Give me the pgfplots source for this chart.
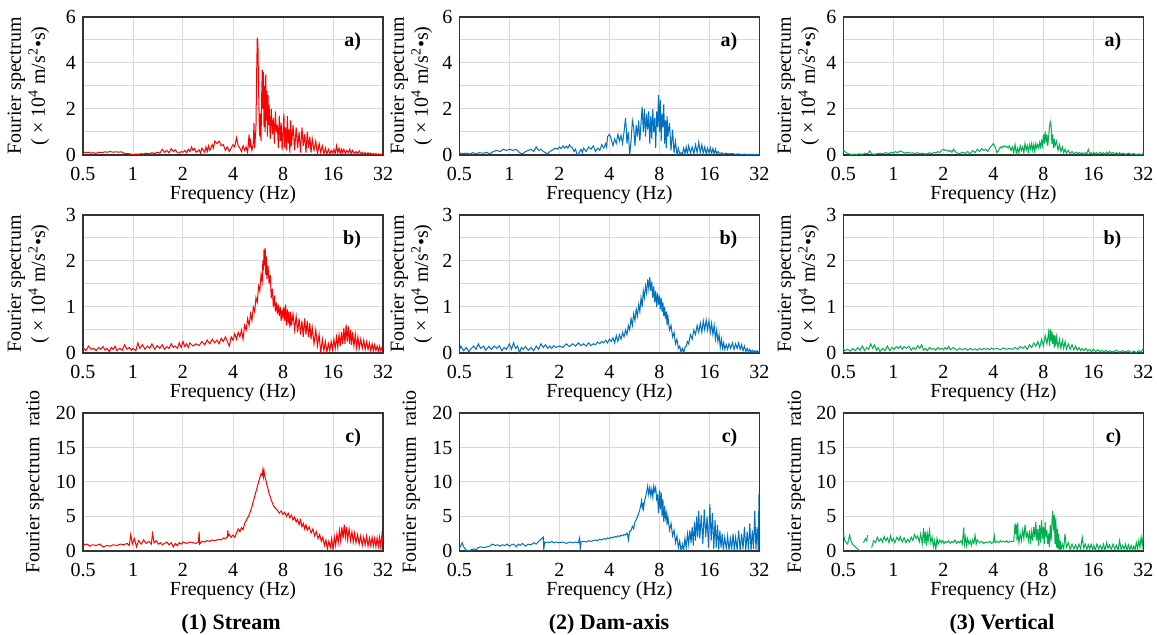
\documentclass[border=0pt]{standalone}
\usepackage{fontspec}
\setmainfont{Liberation Serif}
\usepackage{pgfplots}
\pgfplotsset{compat=1.18}

\definecolor{cred}{RGB}{255,0,0}
\definecolor{cblue}{RGB}{0,112,192}
\definecolor{cgreen}{RGB}{0,176,80}

\pgfplotsset{
  /pgf/number format/assume math mode=true,
  myaxis/.style={
    scale only axis, width=150pt, height=69pt, anchor=north west,
    xmin=0.5, xmax=32, ymin=0,
    xtick={0.5,1,2,4,8,16,32}, xticklabels={0.5,1,2,4,8,16,32},
    grid=major, major grid style={black!15, line width=0.5pt},
    minor grid style={black!15, line width=0.5pt},
    major tick length=0pt, minor tick length=0pt,
    axis line style={black!80, line width=0.8pt},
    tick label style={font=\fontsize{10}{12}\selectfont},
    xticklabel style={yshift=-2.5pt},
    label style={font=\fontsize{10}{12}\selectfont},
    xlabel={Frequency (Hz)},
    xlabel style={yshift=4.5pt},
    unbounded coords=jump,
  },
  myrowa/.style={ymax=6, ytick={0,2,4,6}, minor ytick={1,3,5}, yminorgrids=true},
  myrowb/.style={ymax=3, ytick={0,1,2,3}, minor ytick={0.5,1.5,2.5}, yminorgrids=true},
  myrowc/.style={ymax=20, ytick={0,5,10,15,20}},
  myspec/.style={ylabel={Fourier spectrum\\( × 10\textsuperscript{4} m/s\textsuperscript{2}•s)},
    ylabel style={at={(axis description cs:#1,0.5)}, anchor=center, align=center}},
  myratio/.style={ylabel={Fourier spectrum\ \ ratio},
    ylabel style={at={(axis description cs:#1,0.5)}, anchor=center}},
}
\newcommand\tagfont{\fontsize{10}{12}\selectfont\bfseries}

\begin{document}
\begin{tikzpicture}
\useasboundingbox (0,0) rectangle (578.5pt,-317.5pt);

% ---------------- (1) Stream ----------------
\begin{axis}[xmode=log, log basis x=2, myaxis, myrowa, myspec=-0.182, at={(41.5pt,-8.5pt)}]
\addplot[cred, line width=0.5pt] coordinates {
(0.5,0.15)(0.52,0.1)(0.54,0.12)(0.56,0.08)(0.58,0.1)(0.6,0.07)(0.62,0.12)(0.65,0.1)(0.68,0.14)(0.7,0.12)(0.73,0.15)(0.76,0.12)(0.79,0.14)(0.82,0.12)(0.85,0.14)(0.88,0.08)(0.92,0.06)(0.96,0.05)(1.0,0.02)(1.04,0.04)(1.08,0.03)(1.12,0.06)(1.16,0.04)(1.2,0.08)(1.25,0.05)(1.3,0.1)(1.35,0.06)(1.4,0.12)(1.45,0.08)(1.5,0.25)(1.55,0.12)(1.6,0.2)(1.65,0.1)(1.7,0.28)(1.75,0.15)(1.8,0.22)(1.85,0.1)(1.9,0.08)(1.95,0.15)(2.0,0.12)(2.05,0.2)(2.1,0.1)(2.15,0.25)(2.2,0.15)(2.25,0.35)(2.3,0.2)(2.35,0.28)(2.4,0.12)(2.5,0.22)(2.55,0.08)(2.6,0.3)(2.7,0.12)(2.75,0.35)(2.8,0.15)(2.85,0.4)(2.9,0.2)(3.0,0.45)(3.05,0.3)(3.1,0.6)(3.2,0.5)(3.3,0.6)(3.4,0.4)(3.5,0.45)(3.6,0.2)(3.7,0.35)(3.8,0.15)(3.9,0.3)(4.0,0.45)(4.1,0.35)(4.2,0.75)(4.3,0.4)(4.4,0.3)(4.5,0.15)(4.6,0.4)(4.7,0.2)(4.8,0.35)(4.9,0.1)(5.0,0.9)(5.05,0.3)(5.1,0.6)(5.2,0.2)(5.3,0.5)(5.35,1.4)(5.4,0.3)(5.5,1.2)(5.55,3.5)(5.6,5.1)(5.65,4.9)(5.7,3.0)(5.75,1.5)(5.8,0.8)(5.85,1.8)(5.9,0.6)(5.95,2.5)(6.0,3.7)(6.05,2.0)(6.1,3.6)(6.15,1.2)(6.2,3.0)(6.25,1.0)(6.3,3.5)(6.35,1.5)(6.4,2.8)(6.45,0.8)(6.5,2.6)(6.55,1.3)(6.6,2.2)(6.7,0.7)(6.8,2.0)(6.9,0.9)(7.0,1.6)(7.1,0.5)(7.2,1.9)(7.3,1.0)(7.4,1.3)(7.5,0.3)(7.6,1.7)(7.7,0.6)(7.8,1.4)(7.9,0.2)(8.0,1.0)(8.1,1.8)(8.2,0.3)(8.3,1.2)(8.4,0.2)(8.5,1.7)(8.6,0.5)(8.7,1.1)(8.8,0.1)(8.9,1.5)(9.0,0.4)(9.2,1.3)(9.4,0.2)(9.6,1.2)(9.8,0.3)(10.0,1.0)(10.2,0.1)(10.4,1.2)(10.6,0.4)(10.8,0.9)(11.0,0.1)(11.2,1.0)(11.4,0.3)(11.6,0.8)(11.8,0.1)(12.0,0.7)(12.3,0.2)(12.6,0.6)(12.9,0.05)(13.2,0.5)(13.5,0.1)(13.8,0.4)(14.1,0.05)(14.4,0.3)(14.7,0.05)(15.0,0.25)(15.3,0.05)(15.6,0.2)(15.9,0.1)(16.2,0.25)(16.5,0.05)(16.8,0.4)(17.1,0.1)(17.4,0.3)(17.7,0.05)(18.0,0.25)(18.3,0.1)(18.6,0.25)(19.0,0.05)(19.4,0.2)(19.8,0.1)(20.2,0.25)(20.6,0.05)(21.0,0.2)(21.5,0.05)(22.0,0.15)(22.5,0.05)(23.0,0.18)(23.5,0.05)(24.0,0.12)(24.5,0.03)(25.0,0.1)(25.5,0.02)(26.0,0.1)(26.5,0.03)(27.0,0.08)(27.5,0.02)(28.0,0.07)(28.5,0.02)(29,0.06)(29.5,0.01)(30,0.05)(30.5,0.02)(31,0.04)(31.5,0.01)(32,0.03)
};
\node[font=\tagfont, anchor=east] at (rel axis cs:0.95,0.82) {a)};
\end{axis}

\begin{axis}[xmode=log, log basis x=2, myaxis, myrowb, myspec=-0.182, at={(41.5pt,-107.5pt)}]
\addplot[cred, line width=0.5pt] coordinates {
(0.5,0.12)(0.52,0.05)(0.54,0.15)(0.56,0.08)(0.58,0.1)(0.6,0.05)(0.62,0.12)(0.64,0.08)(0.66,0.14)(0.68,0.06)(0.7,0.1)(0.72,0.03)(0.74,0.12)(0.76,0.08)(0.78,0.15)(0.8,0.05)(0.83,0.1)(0.86,0.06)(0.89,0.18)(0.92,0.08)(0.95,0.12)(0.98,0.06)(1.0,0.1)(1.04,0.05)(1.07,0.22)(1.1,0.1)(1.14,0.18)(1.18,0.08)(1.22,0.15)(1.26,0.1)(1.3,0.2)(1.35,0.08)(1.4,0.16)(1.45,0.1)(1.5,0.18)(1.55,0.08)(1.6,0.14)(1.65,0.1)(1.7,0.2)(1.75,0.12)(1.8,0.15)(1.85,0.1)(1.9,0.22)(1.95,0.12)(2.0,0.25)(2.05,0.14)(2.1,0.2)(2.15,0.12)(2.2,0.22)(2.3,0.15)(2.4,0.2)(2.5,0.16)(2.6,0.25)(2.7,0.18)(2.8,0.28)(2.9,0.2)(3.0,0.3)(3.1,0.22)(3.2,0.28)(3.3,0.2)(3.4,0.32)(3.5,0.25)(3.6,0.35)(3.7,0.25)(3.8,0.15)(3.9,0.35)(4.0,0.28)(4.1,0.42)(4.2,0.3)(4.3,0.45)(4.4,0.35)(4.5,0.5)(4.6,0.3)(4.7,0.6)(4.8,0.5)(4.9,0.75)(5.0,0.6)(5.1,0.85)(5.2,0.7)(5.3,1.0)(5.4,0.9)(5.5,1.2)(5.6,1.1)(5.7,1.45)(5.8,1.35)(5.9,1.7)(6.0,1.55)(6.05,2.0)(6.1,1.8)(6.15,2.25)(6.2,1.9)(6.25,2.28)(6.3,1.7)(6.35,2.1)(6.4,1.6)(6.5,1.9)(6.6,1.5)(6.7,1.7)(6.8,1.2)(6.9,1.4)(7.0,1.0)(7.1,1.25)(7.2,0.9)(7.3,1.1)(7.4,0.85)(7.5,1.05)(7.6,0.8)(7.7,1.0)(7.8,0.7)(7.9,0.95)(8.0,0.75)(8.1,1.0)(8.2,0.7)(8.3,1.05)(8.4,0.6)(8.5,0.95)(8.6,0.65)(8.7,0.9)(8.8,0.55)(8.9,0.9)(9.0,0.6)(9.2,0.85)(9.4,0.5)(9.6,0.8)(9.8,0.45)(10.0,0.75)(10.2,0.4)(10.4,0.7)(10.6,0.35)(10.8,0.75)(11.0,0.4)(11.2,0.7)(11.4,0.35)(11.6,0.65)(11.8,0.3)(12.0,0.55)(12.3,0.2)(12.6,0.5)(12.9,0.15)(13.2,0.4)(13.5,0.0)(13.8,0.3)(14.1,0.05)(14.4,0.25)(14.7,0.02)(15.0,0.2)(15.3,0.05)(15.6,0.25)(15.9,0.08)(16.2,0.3)(16.5,0.1)(16.8,0.35)(17.1,0.12)(17.4,0.4)(17.7,0.15)(18.0,0.45)(18.3,0.2)(18.6,0.55)(18.9,0.2)(19.2,0.62)(19.5,0.25)(19.8,0.58)(20.1,0.2)(20.4,0.5)(20.7,0.18)(21.0,0.45)(21.4,0.15)(21.8,0.4)(22.2,0.12)(22.6,0.35)(23.0,0.1)(23.5,0.3)(24.0,0.1)(24.5,0.28)(25.0,0.08)(25.5,0.25)(26.0,0.08)(26.5,0.22)(27.0,0.05)(27.5,0.2)(28.0,0.05)(28.5,0.18)(29.0,0.05)(29.5,0.15)(30.0,0.04)(30.5,0.15)(31.0,0.05)(31.5,0.12)(32,0.08)
};
\node[font=\tagfont, anchor=east] at (rel axis cs:0.95,0.82) {b)};
\end{axis}

\begin{axis}[xmode=log, log basis x=2, myaxis, myrowc, myratio=-0.16, at={(41.5pt,-206.5pt)}]
\addplot[cred, line width=0.5pt] coordinates {
(0.5,1.3)(0.51,0.9)(0.53,1.0)(0.55,0.7)(0.57,0.9)(0.6,0.8)(0.63,1.0)(0.66,0.6)(0.7,0.8)(0.73,0.7)(0.76,0.9)(0.8,0.8)(0.84,1.0)(0.88,0.9)(0.92,1.1)(0.95,0.8)(0.97,2.4)(0.99,1.0)(1.02,1.8)(1.05,0.6)(1.08,1.5)(1.12,1.0)(1.16,1.6)(1.2,1.1)(1.25,1.4)(1.29,1.0)(1.31,2.5)(1.34,1.2)(1.38,1.5)(1.42,1.0)(1.46,1.2)(1.5,0.9)(1.55,1.1)(1.6,1.3)(1.65,0.9)(1.7,1.2)(1.75,0.6)(1.8,1.1)(1.85,0.8)(1.9,1.2)(1.95,1.0)(2.0,1.3)(2.1,1.1)(2.2,1.3)(2.3,1.2)(2.4,1.1)(2.48,1.3)(2.5,2.8)(2.52,1.0)(2.6,1.4)(2.7,1.3)(2.8,1.5)(2.9,1.4)(3.0,1.6)(3.1,1.5)(3.2,1.6)(3.3,1.7)(3.4,1.6)(3.5,1.9)(3.6,1.8)(3.7,2.0)(3.72,3.0)(3.75,2.2)(3.8,2.4)(3.9,2.0)(4.0,2.3)(4.1,2.0)(4.2,2.6)(4.3,3.2)(4.4,2.8)(4.5,3.4)(4.6,3.1)(4.7,4.0)(4.8,4.4)(4.9,4.8)(5.0,5.2)(5.1,5.8)(5.2,6.4)(5.3,7.2)(5.4,7.9)(5.5,8.6)(5.6,9.3)(5.7,10.0)(5.8,10.6)(5.9,11.2)(6.0,11.0)(6.05,11.7)(6.1,10.8)(6.15,11.6)(6.2,10.9)(6.3,10.3)(6.4,9.6)(6.5,9.0)(6.6,8.3)(6.7,7.9)(6.8,7.4)(6.9,7.0)(7.0,6.6)(7.2,6.2)(7.4,5.9)(7.6,5.5)(7.8,5.8)(8.0,5.3)(8.2,5.6)(8.4,5.0)(8.6,5.5)(8.8,4.8)(9.0,5.2)(9.2,4.5)(9.4,4.9)(9.6,4.2)(9.8,4.6)(10.0,3.8)(10.2,4.5)(10.4,3.5)(10.6,4.0)(10.8,3.2)(11.0,3.8)(11.2,3.0)(11.5,3.5)(11.8,2.6)(12.1,3.2)(12.4,2.2)(12.7,2.8)(13.0,1.8)(13.3,2.4)(13.6,1.4)(13.9,2.0)(14.2,0.8)(14.5,1.6)(14.8,0.3)(15.1,1.4)(15.4,0.5)(15.7,1.8)(16.0,0.2)(16.3,2.0)(16.6,0.8)(16.9,2.5)(17.2,1.2)(17.5,3.0)(17.8,1.5)(18.1,3.5)(18.4,1.8)(18.7,3.8)(19.0,2.0)(19.3,3.5)(19.6,1.6)(20.0,3.2)(20.4,1.5)(20.8,2.8)(21.2,1.3)(21.6,2.6)(22.0,1.2)(22.5,2.4)(23.0,1.0)(23.5,2.2)(24.0,0.8)(24.5,2.0)(25.0,0.9)(25.5,2.2)(26.0,0.7)(26.5,1.9)(27.0,0.8)(27.5,2.0)(28.0,0.7)(28.5,1.8)(29.0,0.6)(29.5,1.9)(30.0,0.7)(30.5,2.0)(31.0,0.6)(31.5,2.3)(32,1.2)
};
\node[font=\tagfont, anchor=east] at (rel axis cs:0.95,0.82) {c)};
\end{axis}

% ---------------- (2) Dam-axis ----------------
\begin{axis}[xmode=log, log basis x=2, myaxis, myrowa, myspec=-0.16, at={(229.7pt,-8.5pt)}]
\addplot[cblue, line width=0.5pt] coordinates {
(0.5,0.1)(0.52,0.05)(0.55,0.08)(0.58,0.04)(0.6,0.1)(0.63,0.06)(0.66,0.1)(0.7,0.08)(0.73,0.12)(0.76,0.05)(0.8,0.15)(0.84,0.2)(0.88,0.15)(0.92,0.25)(0.96,0.2)(1.0,0.25)(1.05,0.2)(1.1,0.25)(1.15,0.1)(1.2,0.05)(1.25,0.15)(1.3,0.2)(1.35,0.25)(1.4,0.15)(1.45,0.35)(1.5,0.2)(1.55,0.25)(1.6,0.15)(1.65,0.1)(1.7,0.05)(1.75,0.15)(1.8,0.2)(1.85,0.25)(1.9,0.3)(1.95,0.25)(2.0,0.35)(2.05,0.28)(2.1,0.4)(2.15,0.3)(2.2,0.38)(2.25,0.3)(2.3,0.45)(2.35,0.35)(2.4,0.3)(2.45,0.15)(2.5,0.25)(2.55,0.05)(2.6,0.02)(2.65,0.15)(2.7,0.25)(2.75,0.1)(2.8,0.3)(2.9,0.15)(3.0,0.35)(3.1,0.25)(3.2,0.4)(3.3,0.15)(3.4,0.3)(3.5,0.2)(3.6,0.45)(3.7,0.3)(3.8,0.5)(3.85,0.35)(3.9,0.8)(4.0,0.9)(4.1,0.7)(4.2,0.4)(4.3,0.7)(4.4,0.5)(4.5,0.9)(4.6,0.6)(4.7,0.85)(4.8,0.5)(4.9,1.0)(5.0,1.6)(5.05,1.2)(5.1,0.5)(5.2,1.0)(5.3,0.0)(5.4,0.6)(5.5,1.5)(5.6,1.2)(5.7,0.4)(5.8,1.3)(5.9,0.8)(6.0,1.5)(6.1,0.6)(6.2,1.4)(6.3,2.1)(6.4,1.0)(6.5,2.0)(6.6,0.8)(6.7,1.8)(6.8,1.1)(6.9,1.9)(7.0,0.5)(7.1,1.7)(7.2,0.7)(7.3,2.0)(7.4,1.0)(7.5,1.6)(7.6,0.3)(7.7,1.9)(7.8,1.2)(7.9,2.6)(8.0,1.0)(8.1,2.4)(8.2,0.6)(8.3,1.8)(8.4,1.2)(8.5,2.2)(8.6,0.5)(8.7,1.5)(8.8,0.3)(8.9,1.7)(9.0,0.8)(9.2,1.4)(9.4,0.2)(9.6,1.1)(9.8,0.1)(10.0,0.6)(10.2,0.0)(10.4,0.3)(10.6,0.05)(10.8,0.1)(11.0,0.05)(11.2,0.3)(11.4,0.05)(11.6,0.35)(11.8,0.05)(12.0,0.4)(12.3,0.08)(12.6,0.35)(12.9,0.05)(13.2,0.45)(13.5,0.1)(13.8,0.55)(14.1,0.1)(14.4,0.45)(14.7,0.08)(15.0,0.35)(15.3,0.05)(15.6,0.3)(15.9,0.08)(16.2,0.32)(16.5,0.05)(16.8,0.28)(17.1,0.05)(17.4,0.25)(17.7,0.05)(18.0,0.15)(18.5,0.05)(19.0,0.1)(19.5,0.03)(20.0,0.08)(21,0.05)(22,0.06)(23,0.03)(24,0.05)(25,0.02)(26,0.04)(27,0.02)(28,0.03)(29,0.02)(30,0.03)(31,0.02)(32,0.02)
};
\node[font=\tagfont, anchor=east] at (rel axis cs:0.95,0.82) {a)};
\end{axis}

\begin{axis}[xmode=log, log basis x=2, myaxis, myrowb, myspec=-0.16, at={(229.7pt,-107.5pt)}]
\addplot[cblue, line width=0.5pt] coordinates {
(0.5,0.05)(0.51,0.15)(0.53,0.05)(0.55,0.12)(0.57,0.03)(0.59,0.1)(0.61,0.15)(0.63,0.08)(0.65,0.2)(0.67,0.1)(0.7,0.15)(0.72,0.06)(0.75,0.14)(0.78,0.08)(0.81,0.15)(0.84,0.1)(0.87,0.16)(0.9,0.05)(0.93,0.12)(0.96,0.08)(1.0,0.2)(1.03,0.08)(1.06,0.22)(1.09,0.1)(1.12,0.15)(1.15,0.0)(1.18,0.12)(1.21,0.08)(1.25,0.14)(1.3,0.06)(1.35,0.12)(1.4,0.05)(1.45,0.15)(1.5,0.08)(1.55,0.2)(1.6,0.12)(1.65,0.18)(1.7,0.1)(1.75,0.15)(1.8,0.1)(1.85,0.16)(1.9,0.12)(2.0,0.15)(2.1,0.12)(2.2,0.2)(2.3,0.14)(2.4,0.2)(2.5,0.15)(2.6,0.22)(2.7,0.16)(2.8,0.2)(2.9,0.15)(3.0,0.22)(3.1,0.16)(3.2,0.2)(3.3,0.18)(3.4,0.24)(3.5,0.2)(3.6,0.25)(3.7,0.22)(3.8,0.28)(3.9,0.22)(4.0,0.3)(4.1,0.25)(4.2,0.33)(4.3,0.22)(4.4,0.38)(4.5,0.25)(4.6,0.4)(4.7,0.3)(4.8,0.45)(4.9,0.35)(5.0,0.5)(5.1,0.4)(5.2,0.6)(5.3,0.5)(5.4,0.75)(5.5,0.6)(5.6,0.85)(5.7,0.7)(5.8,0.95)(5.9,0.8)(6.0,1.05)(6.1,0.9)(6.2,1.2)(6.3,1.0)(6.4,1.35)(6.5,1.2)(6.6,1.45)(6.7,1.3)(6.8,1.6)(6.9,1.4)(7.0,1.65)(7.1,1.35)(7.2,1.55)(7.3,1.2)(7.4,1.45)(7.5,1.1)(7.6,1.35)(7.7,1.0)(7.8,1.3)(7.9,1.05)(8.0,1.25)(8.1,0.95)(8.2,1.2)(8.3,0.9)(8.4,1.1)(8.5,0.8)(8.6,1.0)(8.7,0.75)(8.8,0.9)(8.9,0.6)(9.0,0.8)(9.2,0.5)(9.4,0.6)(9.6,0.35)(9.8,0.45)(10.0,0.2)(10.2,0.3)(10.4,0.1)(10.6,0.15)(10.8,0.02)(11.0,0.1)(11.2,0.0)(11.4,0.12)(11.6,0.15)(11.8,0.25)(12.0,0.2)(12.3,0.4)(12.6,0.3)(12.9,0.5)(13.2,0.4)(13.5,0.6)(13.8,0.45)(14.1,0.65)(14.4,0.45)(14.7,0.7)(15.0,0.5)(15.3,0.72)(15.6,0.5)(15.9,0.7)(16.2,0.45)(16.5,0.65)(16.8,0.4)(17.1,0.6)(17.4,0.3)(17.7,0.5)(18.0,0.25)(18.3,0.4)(18.6,0.12)(18.9,0.3)(19.2,0.1)(19.5,0.22)(19.8,0.08)(20.2,0.18)(20.6,0.08)(21.0,0.2)(21.5,0.1)(22.0,0.22)(22.5,0.08)(23.0,0.2)(23.5,0.1)(24.0,0.22)(24.5,0.08)(25.0,0.18)(25.5,0.05)(26.0,0.15)(26.5,0.03)(27.0,0.1)(27.5,0.02)(28.0,0.08)(28.5,0.02)(29.0,0.06)(29.5,0.01)(30.0,0.05)(30.5,0.01)(31.0,0.05)(31.5,0.0)(32,0.04)
};
\node[font=\tagfont, anchor=east] at (rel axis cs:0.95,0.82) {b)};
\end{axis}

\begin{axis}[xmode=log, log basis x=2, myaxis, myrowc, myratio=-0.16, at={(229.7pt,-206.5pt)}]
\addplot[cblue, line width=0.5pt] coordinates {
(0.5,0.3)(0.51,0.8)(0.52,1.2)(0.53,0.6)(0.55,0.1)(0.57,0.0)(0.59,0.2)(0.61,0.3)(0.63,0.2)(0.65,0.5)(0.67,0.6)(0.7,0.5)(0.73,0.6)(0.76,0.7)(0.79,1.0)(0.82,0.8)(0.85,0.9)(0.88,0.7)(0.91,0.9)(0.94,0.8)(0.97,1.0)(1.0,0.7)(1.03,0.9)(1.06,1.0)(1.1,0.6)(1.13,1.0)(1.16,0.8)(1.2,1.1)(1.25,0.7)(1.3,1.0)(1.35,0.9)(1.4,1.2)(1.45,1.0)(1.5,1.4)(1.55,1.7)(1.6,2.0)(1.61,0.2)(1.63,1.3)(1.66,1.2)(1.7,1.3)(1.75,1.2)(1.8,1.4)(1.85,1.2)(1.9,1.3)(2.0,1.2)(2.1,1.3)(2.2,1.1)(2.3,1.3)(2.4,1.2)(2.5,1.3)(2.6,1.2)(2.65,1.9)(2.67,0.2)(2.7,1.3)(2.8,1.4)(2.9,1.3)(3.0,1.5)(3.1,1.4)(3.2,1.5)(3.3,1.6)(3.4,1.5)(3.5,1.7)(3.6,1.6)(3.7,1.8)(3.8,1.7)(3.9,1.9)(4.0,1.8)(4.1,2.0)(4.2,1.9)(4.3,2.1)(4.4,2.0)(4.5,2.2)(4.6,2.1)(4.7,2.3)(4.8,2.2)(4.9,2.4)(5.0,2.3)(5.1,2.6)(5.15,2.4)(5.2,1.6)(5.25,2.2)(5.3,2.8)(5.4,3.0)(5.5,3.6)(5.6,3.2)(5.7,4.2)(5.8,4.5)(5.9,5.0)(6.0,5.4)(6.1,6.0)(6.2,6.8)(6.25,7.3)(6.3,6.2)(6.35,7.0)(6.4,5.8)(6.5,7.2)(6.6,7.8)(6.7,8.5)(6.8,9.4)(6.9,8.2)(7.0,9.2)(7.1,8.0)(7.2,9.0)(7.3,7.8)(7.4,9.4)(7.5,8.6)(7.6,9.2)(7.7,7.5)(7.8,8.0)(7.9,5.5)(8.0,8.8)(8.1,6.0)(8.2,8.5)(8.3,5.0)(8.4,7.5)(8.5,4.2)(8.6,6.5)(8.7,4.8)(8.8,5.5)(8.9,3.8)(9.0,5.0)(9.2,3.0)(9.4,4.0)(9.6,2.2)(9.8,3.0)(10.0,1.2)(10.2,2.2)(10.4,0.5)(10.6,1.5)(10.8,0.0)(11.0,1.0)(11.2,0.1)(11.4,1.8)(11.6,0.5)(11.8,2.5)(12.0,1.0)(12.2,3.0)(12.4,1.2)(12.6,3.5)(12.8,0.8)(13.0,4.2)(13.2,1.5)(13.4,5.0)(13.6,2.0)(13.8,5.8)(14.0,1.8)(14.3,5.2)(14.6,1.0)(14.9,6.0)(15.2,2.0)(15.5,5.0)(15.8,0.5)(16.1,6.8)(16.4,1.5)(16.7,5.5)(17.0,0.3)(17.3,4.5)(17.6,0.5)(17.9,3.8)(18.2,0.2)(18.5,3.0)(18.8,0.5)(19.1,2.5)(19.4,0.2)(19.8,2.0)(20.2,0.3)(20.6,2.2)(21.0,0.1)(21.4,1.8)(21.8,0.3)(22.2,2.5)(22.6,0.1)(23.0,2.0)(23.5,0.2)(24.0,3.0)(24.5,0.0)(25.0,2.5)(25.5,0.3)(26.0,3.5)(26.5,0.1)(27.0,2.8)(27.5,0.2)(28.0,4.0)(28.5,0.0)(29.0,3.0)(29.5,0.3)(30.0,5.8)(30.5,0.2)(31.0,3.5)(31.5,0.1)(31.8,8.2)(32,0.5)
};
\node[font=\tagfont, anchor=east] at (rel axis cs:0.95,0.82) {c)};
\end{axis}

% ---------------- (3) Vertical ----------------
\begin{axis}[xmode=log, log basis x=2, myaxis, myrowa, myspec=-0.15, at={(421.7pt,-8.5pt)}]
\addplot[cgreen, line width=0.5pt] coordinates {
(0.5,0.2)(0.52,0.1)(0.54,0.05)(0.56,0.02)(0.58,0.04)(0.6,0.02)(0.62,0.05)(0.65,0.03)(0.68,0.08)(0.7,0.05)(0.72,0.18)(0.74,0.05)(0.77,0.03)(0.8,0.06)(0.83,0.08)(0.86,0.05)(0.9,0.1)(0.94,0.06)(0.97,0.12)(1.0,0.08)(1.03,0.15)(1.06,0.1)(1.1,0.18)(1.14,0.12)(1.18,0.08)(1.22,0.12)(1.26,0.08)(1.3,0.1)(1.35,0.06)(1.4,0.1)(1.45,0.05)(1.5,0.08)(1.55,0.04)(1.6,0.06)(1.65,0.1)(1.7,0.05)(1.75,0.12)(1.8,0.08)(1.85,0.15)(1.9,0.1)(1.95,0.2)(2.0,0.25)(2.05,0.2)(2.1,0.22)(2.15,0.15)(2.2,0.2)(2.25,0.12)(2.3,0.25)(2.35,0.15)(2.4,0.1)(2.5,0.05)(2.6,0.12)(2.7,0.08)(2.8,0.15)(2.9,0.05)(3.0,0.2)(3.1,0.1)(3.2,0.25)(3.3,0.15)(3.4,0.28)(3.5,0.2)(3.6,0.25)(3.7,0.15)(3.8,0.3)(3.9,0.4)(4.0,0.5)(4.1,0.35)(4.2,0.1)(4.3,0.2)(4.4,0.35)(4.5,0.3)(4.6,0.4)(4.7,0.35)(4.8,0.38)(4.9,0.3)(5.0,0.4)(5.1,0.2)(5.2,0.35)(5.3,0.1)(5.4,0.45)(5.5,0.05)(5.6,0.3)(5.7,0.1)(5.8,0.4)(5.9,0.2)(6.0,0.35)(6.1,0.1)(6.2,0.5)(6.3,0.2)(6.4,0.4)(6.5,0.15)(6.6,0.45)(6.7,0.25)(6.8,0.5)(6.9,0.2)(7.0,0.45)(7.1,0.15)(7.2,0.5)(7.3,0.3)(7.4,0.45)(7.5,0.3)(7.6,0.55)(7.7,0.35)(7.8,0.6)(7.9,0.4)(8.0,0.9)(8.1,0.5)(8.2,1.0)(8.3,0.6)(8.4,0.9)(8.5,0.4)(8.6,0.8)(8.7,1.2)(8.8,1.45)(8.9,1.3)(9.0,0.5)(9.1,0.9)(9.2,0.3)(9.3,0.7)(9.4,0.4)(9.6,0.6)(9.8,0.2)(10.0,0.45)(10.2,0.15)(10.4,0.35)(10.6,0.1)(10.8,0.25)(11.0,0.08)(11.3,0.2)(11.6,0.05)(11.9,0.15)(12.2,0.05)(12.5,0.12)(12.8,0.04)(13.1,0.12)(13.4,0.05)(13.7,0.1)(14.0,0.03)(14.3,0.1)(14.6,0.05)(14.9,0.25)(15.2,0.05)(15.5,0.1)(15.8,0.03)(16.1,0.12)(16.4,0.04)(16.8,0.1)(17.2,0.03)(17.6,0.12)(18.0,0.05)(18.4,0.1)(18.8,0.03)(19.2,0.12)(19.6,0.04)(20.0,0.15)(20.5,0.05)(21.0,0.12)(21.5,0.04)(22.0,0.1)(22.5,0.03)(23.0,0.1)(23.5,0.03)(24.0,0.08)(25,0.03)(26,0.08)(27,0.03)(28,0.06)(29,0.02)(30,0.05)(31,0.02)(32,0.06)
};
\node[font=\tagfont, anchor=east] at (rel axis cs:0.95,0.82) {a)};
\end{axis}

\begin{axis}[xmode=log, log basis x=2, myaxis, myrowb, myspec=-0.15, at={(421.7pt,-107.5pt)}]
\addplot[cgreen, line width=0.5pt] coordinates {
(0.5,0.1)(0.51,0.05)(0.53,0.08)(0.55,0.04)(0.57,0.1)(0.59,0.05)(0.61,0.12)(0.63,0.06)(0.65,0.15)(0.67,0.05)(0.69,0.12)(0.71,0.08)(0.73,0.2)(0.75,0.1)(0.77,0.18)(0.79,0.06)(0.81,0.12)(0.83,0.03)(0.86,0.1)(0.89,0.05)(0.92,0.15)(0.95,0.05)(0.98,0.12)(1.01,0.08)(1.04,0.14)(1.07,0.1)(1.1,0.15)(1.13,0.08)(1.16,0.14)(1.2,0.1)(1.24,0.15)(1.28,0.06)(1.32,0.12)(1.36,0.08)(1.4,0.16)(1.44,0.1)(1.48,0.18)(1.52,0.06)(1.56,0.1)(1.6,0.05)(1.65,0.12)(1.7,0.08)(1.75,0.1)(1.8,0.06)(1.85,0.12)(1.9,0.08)(1.95,0.1)(2.0,0.07)(2.05,0.12)(2.1,0.08)(2.15,0.14)(2.2,0.07)(2.3,0.12)(2.4,0.06)(2.5,0.1)(2.6,0.07)(2.7,0.1)(2.8,0.06)(2.9,0.1)(3.0,0.07)(3.1,0.09)(3.2,0.06)(3.3,0.1)(3.4,0.07)(3.5,0.1)(3.6,0.08)(3.7,0.1)(3.8,0.07)(3.9,0.11)(4.0,0.08)(4.2,0.1)(4.4,0.07)(4.6,0.11)(4.8,0.08)(5.0,0.1)(5.2,0.08)(5.4,0.12)(5.6,0.08)(5.8,0.14)(6.0,0.1)(6.2,0.15)(6.4,0.08)(6.6,0.18)(6.8,0.12)(7.0,0.22)(7.2,0.15)(7.4,0.25)(7.6,0.12)(7.8,0.3)(8.0,0.15)(8.2,0.38)(8.4,0.2)(8.6,0.45)(8.7,0.15)(8.8,0.52)(8.9,0.25)(9.0,0.48)(9.1,0.2)(9.2,0.4)(9.3,0.12)(9.4,0.38)(9.5,0.15)(9.6,0.35)(9.8,0.12)(10.0,0.3)(10.2,0.1)(10.4,0.28)(10.6,0.1)(10.8,0.25)(11.0,0.08)(11.3,0.2)(11.6,0.08)(11.9,0.18)(12.2,0.07)(12.5,0.15)(12.8,0.06)(13.1,0.12)(13.4,0.05)(13.7,0.1)(14.0,0.05)(14.4,0.1)(14.8,0.04)(15.2,0.08)(15.6,0.03)(16.0,0.08)(16.5,0.03)(17.0,0.07)(17.5,0.03)(18.0,0.06)(18.5,0.02)(19.0,0.06)(19.5,0.02)(20.0,0.05)(21,0.02)(22,0.06)(23,0.02)(24,0.05)(25,0.02)(26,0.05)(27,0.01)(28,0.04)(29,0.01)(30,0.05)(31,0.02)(32,0.1)
};
\node[font=\tagfont, anchor=east] at (rel axis cs:0.95,0.82) {b)};
\end{axis}

\begin{axis}[xmode=log, log basis x=2, myaxis, myrowc, myratio=-0.157, at={(421.7pt,-206.5pt)}]
\addplot[cgreen, line width=0.5pt] coordinates {
(0.5,2.5)(0.51,1.5)(0.52,1.2)(0.53,1.0)(0.545,2.3)(0.555,1.5)(0.57,0.9)(0.59,0.6)(0.61,0.3)(0.63,0.0)(0.64,nan)(0.66,1.2)(0.68,1.8)(0.69,1.5)(0.7,2.3)(0.71,nan)(0.74,0.5)(0.76,1.5)(0.78,1.2)(0.8,2.0)(0.82,1.4)(0.84,1.8)(0.86,1.3)(0.88,2.1)(0.9,1.5)(0.92,1.9)(0.94,1.2)(0.96,2.2)(0.98,1.4)(1.0,1.8)(1.02,1.2)(1.05,2.0)(1.08,1.5)(1.1,2.1)(1.13,1.3)(1.16,1.9)(1.19,1.2)(1.22,1.7)(1.25,1.3)(1.28,2.0)(1.31,1.5)(1.34,2.4)(1.37,1.8)(1.4,2.2)(1.43,1.3)(1.46,2.5)(1.49,1.0)(1.52,3.3)(1.54,1.2)(1.56,2.8)(1.58,0.8)(1.6,2.5)(1.62,1.5)(1.65,3.0)(1.68,1.2)(1.71,2.0)(1.74,0.6)(1.77,1.5)(1.8,0.2)(1.83,1.8)(1.86,1.0)(1.9,1.6)(1.94,1.2)(1.98,1.5)(2.02,1.1)(2.06,1.4)(2.1,1.2)(2.15,1.5)(2.2,1.1)(2.25,1.4)(2.3,1.2)(2.35,1.6)(2.4,1.1)(2.45,1.4)(2.5,1.2)(2.55,1.5)(2.6,1.0)(2.65,3.4)(2.68,1.0)(2.72,2.0)(2.76,0.8)(2.8,1.8)(2.85,1.0)(2.9,1.5)(2.95,0.8)(3.0,1.6)(3.05,1.1)(3.1,2.3)(3.15,1.0)(3.2,1.6)(3.3,1.2)(3.4,1.4)(3.5,1.1)(3.6,1.3)(3.7,1.2)(3.8,1.4)(3.9,1.1)(4.0,1.3)(4.05,2.2)(4.1,1.2)(4.2,1.4)(4.3,1.2)(4.4,1.5)(4.5,1.3)(4.6,1.4)(4.7,1.3)(4.8,1.5)(4.9,1.2)(5.0,1.4)(5.3,1.4)(5.4,4.0)(5.45,2.5)(5.5,3.8)(5.55,1.5)(5.6,4.1)(5.65,2.0)(5.7,1.2)(5.8,2.5)(5.9,1.5)(6.0,3.0)(6.1,1.8)(6.2,3.8)(6.3,2.0)(6.4,2.6)(6.5,1.5)(6.6,3.0)(6.7,1.0)(6.8,2.8)(6.9,1.5)(7.0,3.5)(7.1,2.0)(7.2,4.2)(7.3,1.5)(7.4,3.2)(7.5,0.8)(7.6,3.8)(7.7,1.2)(7.8,4.5)(7.9,1.8)(8.0,3.5)(8.1,1.0)(8.2,4.2)(8.3,2.0)(8.4,3.0)(8.5,1.0)(8.6,2.5)(8.7,0.6)(8.8,3.8)(8.9,1.5)(9.0,4.0)(9.1,5.8)(9.2,3.0)(9.3,5.2)(9.4,1.0)(9.5,4.8)(9.6,0.5)(9.7,3.2)(9.8,0.3)(9.9,2.5)(10.0,0.2)(10.1,1.5)(10.2,0.1)(10.4,1.0)(10.6,0.3)(10.8,2.5)(11.0,0.5)(11.3,1.2)(11.6,0.2)(11.9,1.0)(12.2,0.3)(12.5,0.9)(12.8,0.2)(13.1,1.0)(13.4,0.3)(13.7,2.0)(14.0,0.4)(14.3,1.0)(14.6,0.2)(14.9,0.9)(15.2,0.3)(15.5,1.0)(15.8,0.2)(16.1,0.8)(16.4,0.1)(16.8,1.0)(17.2,0.3)(17.6,0.8)(18.0,0.2)(18.4,1.0)(18.8,0.1)(19.2,1.2)(19.6,0.4)(20.0,0.9)(20.5,0.2)(21.0,1.0)(21.5,0.3)(22.0,0.8)(22.5,0.1)(23.0,1.5)(23.5,0.2)(24.0,0.8)(24.5,0.3)(25.0,1.0)(25.5,0.1)(26.0,0.9)(26.5,0.2)(27.0,0.8)(27.5,0.1)(28.0,0.7)(28.5,0.2)(29.0,1.2)(29.5,0.3)(30.0,1.5)(30.5,0.5)(31.0,2.0)(31.5,0.8)(32,2.6)
};
\node[font=\tagfont, anchor=east] at (rel axis cs:0.95,0.82) {c)};
\end{axis}

% column titles
\node[font=\fontsize{11}{13}\selectfont\bfseries] at (115.5pt,-312pt) {(1) Stream};
\node[font=\fontsize{11}{13}\selectfont\bfseries] at (304.5pt,-312pt) {(2) Dam-axis};
\node[font=\fontsize{11}{13}\selectfont\bfseries] at (501pt,-312pt) {(3) Vertical};
\end{tikzpicture}
\end{document}
